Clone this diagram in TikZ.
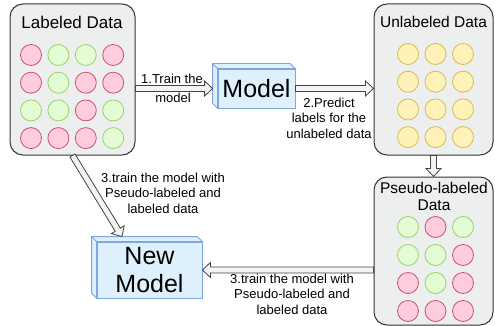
\documentclass[tikz,border=0pt]{standalone}
\usepackage{fontspec}
\setmainfont{Liberation Sans}
\usetikzlibrary{calc}
\definecolor{boxfill}{HTML}{EDEEEE}
\definecolor{boxline}{HTML}{333333}
\definecolor{Rf}{HTML}{FFCCDD}
\definecolor{Rd}{HTML}{C95270}
\definecolor{Gf}{HTML}{E3FCD3}
\definecolor{Gd}{HTML}{97D46F}
\definecolor{Yf}{HTML}{FFF2B8}
\definecolor{Yd}{HTML}{D9BC55}
\definecolor{cubef}{HTML}{DEF0FC}
\definecolor{cubed}{HTML}{7EA6E0}
\definecolor{arrf}{HTML}{F4F4F4}
\definecolor{arrd}{HTML}{444444}
\tikzset{
  databox/.style={draw=boxline, fill=boxfill, line width=1pt, rounded corners=13pt, inner sep=0pt},
  title/.style={inner sep=0pt, font=\fontsize{15.5}{18}\selectfont, align=center},
  dot/.style={circle, inner sep=0pt, minimum size=21pt, line width=0.8pt, fill=#1f, draw=#1d},
  cubeface/.style={draw=cubed, fill=cubef, line width=0.8pt, inner sep=0pt, font=\fontsize{25}{28}\selectfont, align=center},
  flexa/.style={draw=arrd, fill=arrf, line width=0.8pt, line join=miter},
  lbl/.style={inner sep=0pt, font=\fontsize{13}{15.5}\selectfont, align=center},
}
\newcommand\flexarrow[2]{%
  \draw[flexa] let \p1=(#1), \p2=(#2), \n1={atan2(\y2-\y1,\x2-\x1)}, \n2={veclen(\x2-\x1,\y2-\y1)} in
  [shift={(\p1)}, rotate=\n1] (0,3) -- ({\n2-8},3) -- ({\n2-8},7.5) -- (\n2,0) -- ({\n2-8},-7.5) -- ({\n2-8},-3) -- (0,-3) -- cycle;}
\newcommand\cubeback[1]{%
  \filldraw[draw=cubed, fill=cubef, line width=0.8pt] (#1.south west) -- ++(-5,-5) |- ([shift={(-5,-5)}]#1.north east) -- (#1.north east) -- (#1.north west) -- cycle;
  \draw[draw=cubed, line width=0.8pt] (#1.north west) -- ++(-5,-5);}
\begin{document}
\begin{tikzpicture}[x=1pt, y=-1pt]
\useasboundingbox (0,0) rectangle (495,326);
% boxes
\node[databox, minimum width=125pt, minimum height=151pt] (lab) at (72.5,79.5) {};
\node[databox, minimum width=119pt, minimum height=151pt] (unl) at (433.5,79.5) {};
\node[databox, minimum width=119pt, minimum height=148pt] (pse) at (433.5,251) {};
\node[title, font=\fontsize{17}{20}\selectfont] (labt) at (72,22) {Labeled Data};
\node[title] (unlt) at (433.5,21.5) {Unlabeled Data};
\node[title, font=\fontsize{15.5}{17}\selectfont] (pset) at (434,196.5) {Pseudo-labeled\\Data};
% circles
\foreach \row [count=\r] in {{R,G,G,R},{R,G,R,R},{G,G,R,G},{R,R,R,G}} {
  \foreach \c [count=\k] in \row {
    \node[dot=\c] (l\r\k) at ({31+(\k-1)*27.4},{55+(\r-1)*27.7}) {};
  }
}
\foreach \r in {1,...,4} {
  \foreach \k in {1,2,3} {
    \node[dot=Y] (u\r\k) at ({408+(\k-1)*27.5},{54+(\r-1)*27.7}) {};
  }
}
\foreach \row [count=\r] in {{G,R,G},{G,G,R},{R,G,R},{R,R,R}} {
  \foreach \c [count=\k] in \row {
    \node[dot=\c] (p\r\k) at ({408+(\k-1)*27.5},{227+(\r-1)*28}) {};
  }
}
% models
\node[cubeface, minimum width=77pt, minimum height=39pt] (model) at (256.5,88.5) {};
\cubeback{model}
\node[inner sep=0pt, font=\fontsize{25}{28}\selectfont] (modelt) at (model) {Model};
\node[cubeface, minimum width=105pt, minimum height=56pt] (nm) at (149.5,270) {};
\cubeback{nm}
\node[inner sep=0pt, font=\fontsize{25}{28}\selectfont, align=center] (nmt) at (nm) {New\\Model};
% arrows
\flexarrow{lab.east |- model.west}{[xshift=-5pt]model.west}
\flexarrow{model.east}{unl.west |- model.east}
\flexarrow{unl.south}{pse.north}
\flexarrow{pse.west |- nm.east}{nm.east}
\flexarrow{lab.south}{[yshift=5pt]$(nm.north west)!0.24!(nm.north east)$}
% labels
\node[lbl] (a1) at (172,79) {1.Train the};
\node[lbl] (a1b) at (173,98) {model};
\node[lbl] (a2) at (329,118) {2.Predict\\labels for the\\unlabeled data};
\node[lbl] (a3) at (163,193) {3.train the model with\\Pseudo-labeled and\\labeled data};
\node[lbl] (a4) at (292,294) {3.train the model with\\Pseudo-labeled and\\labeled data};
\end{tikzpicture}
\end{document}
